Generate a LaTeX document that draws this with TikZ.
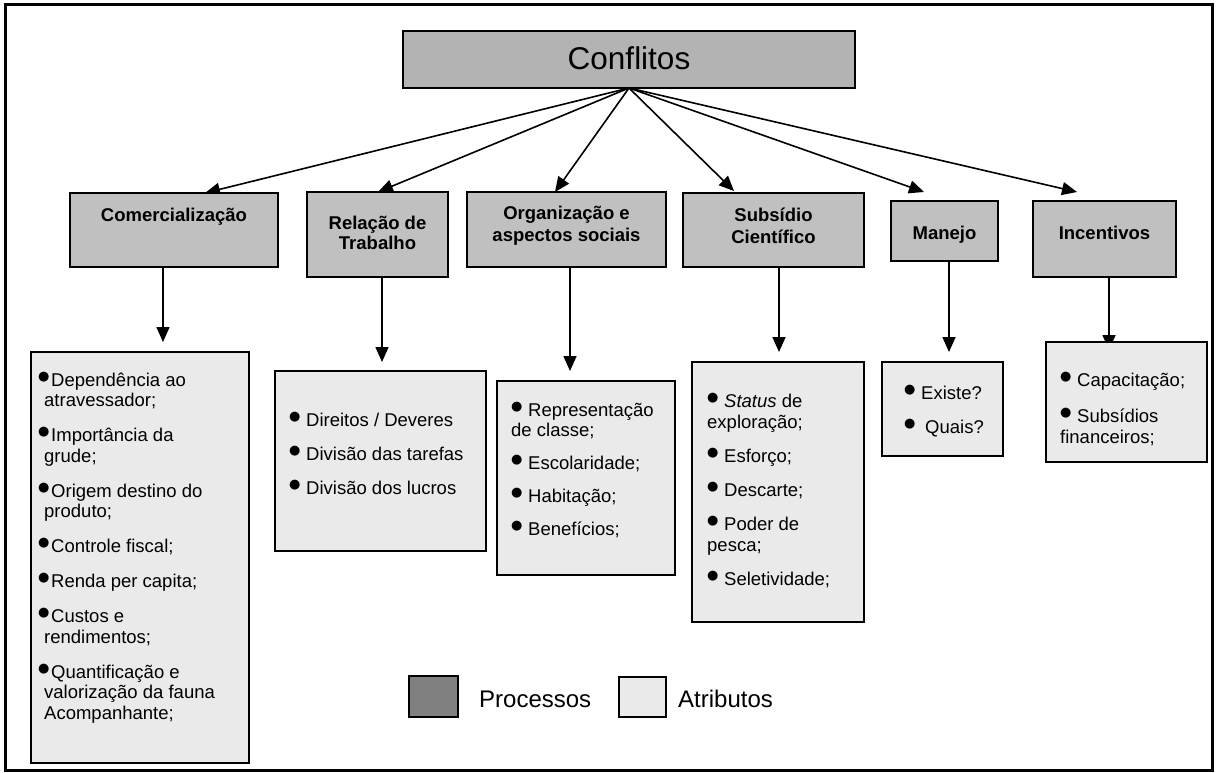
\documentclass[tikz,border=0pt]{standalone}
\usepackage{fontspec}
\setmainfont{Liberation Sans}
\newfontfamily\dotfont{DejaVu Sans}
\usetikzlibrary{arrows.meta,calc,backgrounds}

\definecolor{topfill}{RGB}{179,179,179}
\definecolor{procfill}{RGB}{192,192,192}
\definecolor{attrfill}{RGB}{234,234,234}
\definecolor{keyfill}{RGB}{128,128,128}

% raised round bullet followed by its gap
\newcommand\blt[1][17pt]{\makebox[#1][l]{\raisebox{6pt}{\fontsize{13}{13}\selectfont\dotfont ●}}}
% fixes the height of a first line
\newcommand\topst{\rule{0pt}{16pt}}

\tikzset{
  boxbase/.style={draw=black, line width=1.6pt, inner sep=0pt, outer sep=0pt, anchor=north west},
  topbox/.style={boxbase, fill=topfill},
  procbox/.style={boxbase, fill=procfill},
  attrbox/.style={boxbase, fill=attrfill},
  keybox/.style={boxbase, line width=1.5pt},
  arr/.style={line width=1.6pt, -{Triangle[length=15pt,width=13pt]}},
  plabel/.style={inner sep=0pt, font=\fontsize{18.5}{22}\selectfont\bfseries, align=center},
  alabel/.style={inner sep=0pt, anchor=north west, align=left},
  klabel/.style={inner sep=0pt, anchor=base west, font=\fontsize{24}{28}\selectfont},
}

\begin{document}
\begin{tikzpicture}[x=1pt, y=-1pt]
\useasboundingbox (0,0) rectangle (1216,773);

% outer frame
\draw[line width=3pt] (5.5,5) rectangle (1212.5,770);

% main box
\node[topbox, minimum width=452pt, minimum height=57pt] (top) at (403,31) {};
\node[inner sep=0pt, anchor=base, font=\fontsize{31.5}{36}\selectfont] (topL) at (629,70) {Conflitos};

% process boxes
\node[procbox, minimum width=208pt, minimum height=74pt] (com) at (70,193) {};
\node[procbox, minimum width=141pt, minimum height=85pt] (rel) at (307,192) {};
\node[procbox, minimum width=199pt, minimum height=75pt] (org) at (467,192) {};
\node[procbox, minimum width=181pt, minimum height=74pt] (sub) at (683,193) {};
\node[procbox, minimum width=107pt, minimum height=60pt] (man) at (891,201) {};
\node[procbox, minimum width=143pt, minimum height=76pt] (inc) at (1033,201) {};

\node[plabel, anchor=base] (comL) at (174,221) {Comercialização};
\node[plabel, anchor=north, font=\fontsize{18.5}{20}\selectfont\bfseries] (relL) at (377.5,213) {\topst Relação de\\Trabalho};
\node[plabel, anchor=north] (orgL) at (566.5,203) {\topst Organização e\\aspectos sociais};
\node[plabel, anchor=north] (subL) at (773.5,205) {\topst Subsídio\\Científico};
\node[plabel, anchor=base] (manL) at (944.5,239) {Manejo};
\node[plabel, anchor=base] (incL) at (1104.5,239) {Incentivos};

% attribute boxes
\node[attrbox, minimum width=218pt, minimum height=411pt] (comA) at (31,352) {};
\node[attrbox, minimum width=211pt, minimum height=180pt] (relA) at (275,371) {};
\node[attrbox, minimum width=178pt, minimum height=194pt] (orgA) at (497,381) {};
\node[attrbox, minimum width=172pt, minimum height=260pt] (subA) at (692,362) {};
\node[attrbox, minimum width=121pt, minimum height=94pt] (manA) at (882,362) {};
\node[attrbox, minimum width=161pt, minimum height=120pt] (incA) at (1046,342) {};

\node[alabel, font=\fontsize{18.5}{20.5}\selectfont] (comT) at (44,370) {%
\topst\hspace*{-6pt}\blt[13pt]Dependência ao\\atravessador;\\[14.5pt]
\hspace*{-6pt}\blt[13pt]Importância da\\grude;\\[14.5pt]
\hspace*{-6pt}\blt[13pt]Origem destino do\\produto;\\[14.5pt]
\hspace*{-6pt}\blt[13pt]Controle fiscal;\\[14.5pt]
\hspace*{-6pt}\blt[13pt]Renda per capita;\\[14.5pt]
\hspace*{-6pt}\blt[13pt]Custos e\\rendimentos;\\[14.5pt]
\hspace*{-6pt}\blt[13pt]Quantificação e\\valorização da fauna\\Acompanhante;};

\node[alabel, font=\fontsize{18.5}{20.5}\selectfont] (relT) at (289,410) {%
\topst\blt Direitos / Deveres\\[13.5pt]
\blt Divisão das tarefas\\[13.5pt]
\blt Divisão dos lucros};

\node[alabel, font=\fontsize{18.5}{20}\selectfont] (orgT) at (511,400) {%
\topst\blt Representação\\de classe;\\[13pt]
\blt Escolaridade;\\[13pt]
\blt Habitação;\\[13pt]
\blt Benefícios;};

\node[alabel, font=\fontsize{18.5}{21}\selectfont] (subT) at (707,391) {%
\topst\blt\textit{Status} de\\exploração;\\[13pt]
\blt Esforço;\\[13pt]
\blt Descarte;\\[13pt]
\blt Poder de\\pesca;\\[13pt]
\blt Seletividade;};

\node[alabel, font=\fontsize{18.5}{21}\selectfont] (manT) at (904,383) {%
\topst\blt Existe?\\[13pt]
\blt\hspace{4pt}Quais?};

\node[alabel, font=\fontsize{18.5}{21}\selectfont] (incT) at (1060,370) {%
\topst\blt Capacitação;\\[15pt]
\blt Subsídios\\financeiros;};

% legend
\node[keybox, fill=keyfill, minimum width=49pt, minimum height=41pt] (keyP) at (409,676) {};
\node[keybox, fill=attrfill, minimum width=47pt, minimum height=40pt] (keyA) at (619,677) {};
\node[klabel] (keyPL) at (479,707) {Processos};
\node[klabel] (keyAL) at (678,707) {Atributos};

% connectors, kept behind the boxes
\begin{scope}[on background layer]
\draw[arr] (top.south) -- ($(com.north west)+(135,0)$);
\draw[arr] (top.south) -- ($(rel.north west)+(71,0)$);
\draw[arr] (top.south) -- ($(org.north west)+(88,0)$);
\draw[arr] (top.south) -- ($(sub.north west)+(51,-2)$);
\draw[arr] (top.south) -- ($(man.north west)+(33,-9)$);
\draw[arr] (top.south) -- ($(inc.north west)+(44,-9)$);

\draw[arr] ($(com.south west)+(93,0)$) -- ($(comA.north west)+(132,-10)$);
\draw[arr] ($(rel.south west)+(75,0)$) -- ($(relA.north west)+(107,-9)$);
\draw[arr] ($(org.south west)+(103,0)$) -- ($(orgA.north west)+(73,-10)$);
\draw[arr] ($(sub.south west)+(96,0)$) -- ($(subA.north west)+(87,-10)$);
\draw[arr] ($(man.south west)+(58,0)$) -- ($(manA.north west)+(67,-10)$);
\draw[arr] ($(inc.south west)+(76,0)$) -- ($(incA.north west)+(63,8)$);
\end{scope}
\end{tikzpicture}
\end{document}
